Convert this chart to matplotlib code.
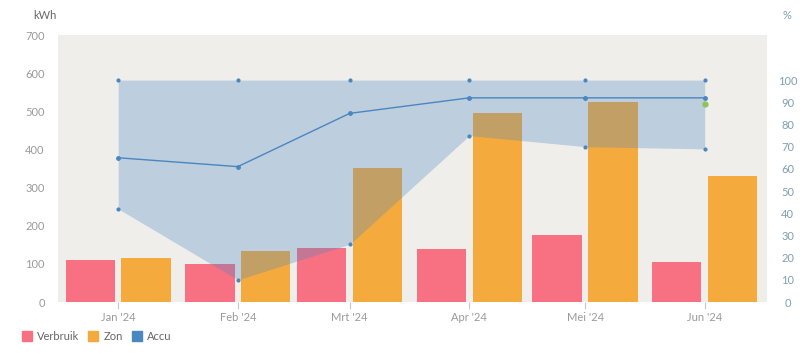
import datetime as dt
import numpy as np
import matplotlib
matplotlib.use("Agg")
import matplotlib.pyplot as plt
import matplotlib.dates as mdates
from matplotlib.lines import Line2D

plt.rcParams['font.family'] = ['Lato', 'DejaVu Sans']

# data
months = [dt.date(2024, m, 1) for m in range(1, 7)]
month_labels = ["Jan '24", "Feb '24", "Mrt '24", "Apr '24", "Mei '24", "Jun '24"]
verbruik = [111, 100, 141, 139, 177, 105]
zon = [115, 135, 351, 495, 525, 330]
accu_min = [42, 10, 26, 75, 70, 69]
accu_max = [100, 100, 100, 100, 100, 100]
accu_avg = [65, 61, 85, 92, 92, 92]
accu_now = 89

c_verbruik = '#f87183'
c_zon = '#f5aa3e'
c_accu = '#4a86c0'
c_bg = '#f0eeeb'

x = mdates.date2num(months)

fig = plt.figure(figsize=(8, 3.63), dpi=100)
ax = fig.add_axes([0.0725, 0.168, 0.886, 0.7355])
ax.set_facecolor(c_bg)
w = 12.8
ax.bar(x - 7.25, verbruik, width=w, color=c_verbruik, zorder=2)
ax.bar(x + 7.25, zon, width=w, color=c_zon, zorder=2)
ax.set_ylim(0, 700)
ax.set_yticks(range(0, 701, 100))
ax.set_xlim(x[0] - 15.6, x[-1] + 16.1)
ax.set_xticks(x)
ax.set_xticklabels(month_labels)
for s in ax.spines.values():
    s.set_visible(False)
ax.tick_params(axis='y', length=0, labelcolor='#9a9a9a', labelsize=8, pad=9.5)
ax.tick_params(axis='x', length=5, color='#c8c8c8', labelcolor='#9a9a9a', labelsize=8, pad=2)

ax2 = ax.twinx()
ax2.patch.set_visible(False)
ax2.fill_between(x, accu_min, accu_max, color=c_accu, alpha=0.3, lw=0)
ax2.plot(x, accu_max, ls='none', marker='o', ms=2, color=c_accu)
ax2.plot(x, accu_min, ls='none', marker='o', ms=2, color=c_accu)
ax2.plot(x, accu_avg, color=c_accu, lw=1, marker='o', ms=2.5)
ax2.plot(x[-1], accu_now, marker='o', ms=3.5, color='#8cc45a', ls='none')
ax2.set_ylim(0, 120.3)
ax2.set_yticks(range(0, 101, 10))
for s in ax2.spines.values():
    s.set_visible(False)
ax2.tick_params(axis='y', length=0, labelcolor='#7f9fb5', labelsize=8, pad=15)
for t in ax2.get_yticklabels():
    t.set_horizontalalignment('center')

fig.text(0.042, 0.958, 'kWh', color='#666666', fontsize=8, ha='left', va='center')
fig.text(0.984, 0.958, '%', color='#7f9fb5', fontsize=8, ha='center', va='center')

handles = [Line2D([], [], ls='none', marker='s', ms=7.5, color=c) for c in (c_verbruik, c_zon, c_accu)]
fig.legend(handles, ['Verbruik', 'Zon', 'Accu'], loc='center left', bbox_to_anchor=(0.014, 0.072),
           ncol=3, frameon=False, fontsize=8, handlelength=1.0, handletextpad=0.4,
           columnspacing=0.8, labelcolor='#666666')

fig.savefig('out.png', dpi=100)
